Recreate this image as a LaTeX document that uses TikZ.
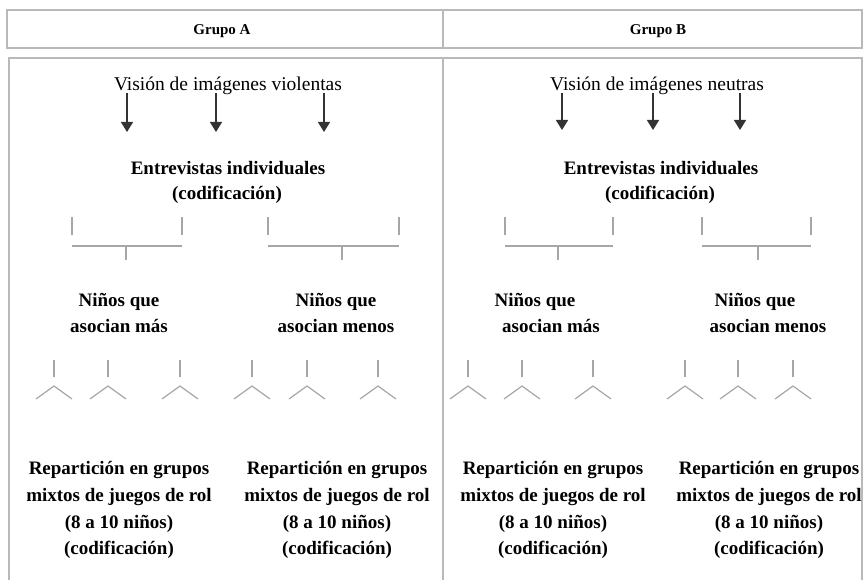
\documentclass[tikz,border=0pt]{standalone}
\usepackage{fontspec}
\setmainfont{Liberation Serif}
\usetikzlibrary{arrows.meta}
\begin{document}
\begin{tikzpicture}[x=1pt,y=-1pt,
  frame/.style={draw=gray!55,line width=2pt},
  hdr/.style={font=\fontsize{15}{18}\selectfont\bfseries,anchor=mid,inner sep=0pt,yshift=-3pt},
  vis/.style={font=\fontsize{19.5}{23}\selectfont,anchor=mid,inner sep=0pt,yshift=-4pt},
  lbl/.style={font=\fontsize{19}{23}\selectfont\bfseries,anchor=mid,inner sep=0pt,yshift=-4pt},
  arr/.style={draw=black!80,line width=1.5pt,-{Triangle[width=12pt,length=10pt]}},
  tick/.style={draw=gray!70,line width=1.2pt},
  bar/.style={draw=gray!70,line width=1.4pt}]
\useasboundingbox (0,0) rectangle (864,580);
% frames
\draw[frame] (7,10) rectangle (862,48);
\draw[frame] (443,10) -- (443,48);
\draw[frame] (9,585) -- (9,58) -- (862,58) -- (862,585);
\draw[frame] (443,58) -- (443,585);
% headers
\node[hdr] (ga) at (222,29) {Grupo A};
\node[hdr] (gb) at (658,29) {Grupo B};
% vision
\node[vis] (va) at (228,84) {Visión de imágenes violentas};
\node[vis] (vb) at (657,84) {Visión de imágenes neutras};
\foreach \x/\n in {127/1,216/2,324/3}{\coordinate (vaa\n) at (\x,93); \coordinate (vae\n) at (\x,132);
  \draw[arr] (vaa\n) -- (vae\n);}
\foreach \x/\n/\t in {562/1/93,653/2/93,740/3/93}{\coordinate (vba\n) at (\x,\t); \coordinate (vbe\n) at (\x,130);
  \draw[arr] (vba\n) -- (vbe\n);}
% entrevistas
\node[lbl] (ea) at (228,168) {Entrevistas individuales};
\node[lbl] (ca) at (227,193) {(codificación)};
\node[lbl] (eb) at (661,168) {Entrevistas individuales};
\node[lbl] (cb) at (660,193) {(codificación)};
% brackets
\foreach \l/\r/\m in {72/182/126, 268/399/342, 505/613/558, 702/811/758}{
  \draw[tick] (\l,217) -- (\l,235);
  \draw[tick] (\r,217) -- (\r,235);
  \draw[bar] (\l,246) -- (\r,246);
  \draw[tick] (\m,247) -- (\m,260);
}
% ninos
\node[lbl] (n1a) at (119,300) {Niños que};
\node[lbl] (n1b) at (119,326) {asocian más};
\node[lbl] (n2a) at (336,300) {Niños que};
\node[lbl] (n2b) at (336,326) {asocian menos};
\node[lbl] (n3a) at (535,300) {Niños que};
\node[lbl] (n3b) at (551,326) {asocian más};
\node[lbl] (n4a) at (755,300) {Niños que};
\node[lbl] (n4b) at (768,326) {asocian menos};
% forks
\foreach \x in {54,108,180,252,307,378,468,522,593,685,738,793}{
  \draw[tick] (\x,360) -- (\x,377);
  \draw[tick] (\x-18,399) -- (\x,386) -- (\x+18,399);
}
% reparticion
\foreach \c/\k in {119/a,337/b,553/c,769/d}{
  \node[lbl] (r1\k) at (\c,468) {Repartición en grupos};
  \node[lbl] (r2\k) at (\c,495) {mixtos de juegos de rol};
  \node[lbl] (r3\k) at (\c,522) {(8 a 10 niños)};
  \node[lbl] (r4\k) at (\c,548) {(codificación)};
}
\end{tikzpicture}
\end{document}
